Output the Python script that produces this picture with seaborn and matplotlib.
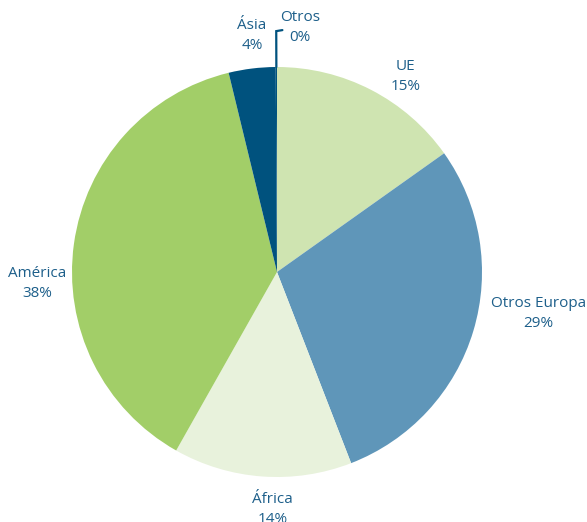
import matplotlib

matplotlib.use("Agg")

import numpy as np
import matplotlib.pyplot as plt
import seaborn as sns

# Data (share of total, %)
regions = ["UE", "Otros Europa", "África", "América", "Ásia", "Otros"]
shares = [15.2, 29.0, 14.1, 38.1, 3.7, 0.1]

colors = ["#cfe4b1", "#5f96b9", "#e8f2dc", "#a2ce68", "#00527e", "#00527e"]
text_color = "#1d5f8a"

# label layout: (angle nudge in degrees from slice middle, distance from centre in radii)
label_layout = [(-6, 1.14), (7.7, 1.29), (3, 1.16), (10.6, 1.17), (-1, 1.16), (-5.5, 1.20)]

W, H, DPI = 587, 522, 100
CX, CY, R = 277, 250, 205  # pie centre (px from bottom-left) and radius in px

sns.set_theme(style="white")
plt.rcParams["font.family"] = ["Open Sans", "DejaVu Sans"]

fig = plt.figure(figsize=(W / DPI, H / DPI), dpi=DPI)
ax = fig.add_axes([0, 0, 1, 1])

wedges, _ = ax.pie(
    shares,
    colors=colors,
    startangle=90,
    counterclock=False,
    radius=1,
    wedgeprops=dict(linewidth=0),
)

total = sum(shares)
for w, name, val, (nudge, dist) in zip(wedges, regions, shares, label_layout):
    mid = (w.theta1 + w.theta2) / 2 + nudge
    x = dist * np.cos(np.radians(mid))
    y = dist * np.sin(np.radians(mid))
    pct = round(val / total * 100)
    ax.text(x, y, f"{name}\n{pct}%", ha="center", va="center",
            color=text_color, fontsize=11, linespacing=1.45)

# leader line for the tiny "Otros" slice
w = wedges[-1]
mid = np.radians((w.theta1 + w.theta2) / 2)
ax.plot([np.cos(mid), 1.175 * np.cos(mid), 1.175 * np.cos(mid) + 0.03],
        [np.sin(mid), 1.175 * np.sin(mid), 1.175 * np.sin(mid) + 0.005],
        color="#00527e", linewidth=1.6, solid_joinstyle="miter")

ax.set_aspect("auto")
ax.set_xlim(-CX / R, (W - CX) / R)
ax.set_ylim(-CY / R, (H - CY) / R)
ax.axis("off")

fig.savefig("out.png", dpi=DPI, facecolor="white")
plt.close(fig)
